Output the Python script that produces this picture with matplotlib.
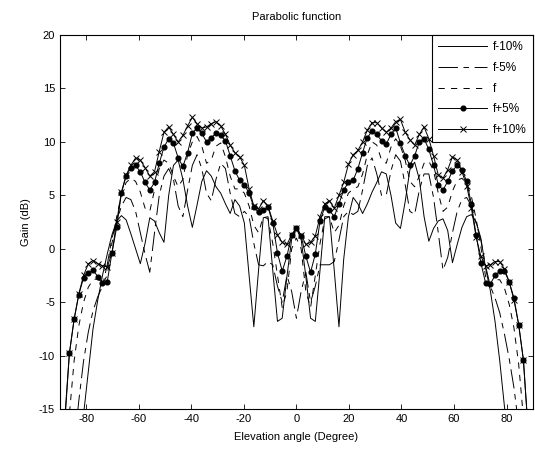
import numpy as np
import matplotlib
matplotlib.use("Agg")
import matplotlib.pyplot as plt

plt.rcParams['font.family'] = ['Liberation Sans', 'DejaVu Sans']
plt.rcParams['font.size'] = 8
plt.rcParams['lines.scale_dashes'] = False
plt.rcParams['axes.unicode_minus'] = False

# elevation angle samples (degrees), 1.8 deg step
angles = np.linspace(-90, 90, 101)

gain_m10 = [-40, -35, -30, -25, -20, -15.5, -11.5, -7.5, -4.8, -2.5,
            -0.5, 1.3, 2.6, 3.1, 2.7, 1.4, 0.0, -1.4, 0.5, 2.9,
            2.6, 1.5, 0.6, 5.0, 7.8, 8.3, 6.5, 4.0, 2.0, 4.1,
            6.3, 7.3, 6.8, 5.8, 5.2, 4.2, 3.3, 4.6, 4.0, 2.4,
            -2.5, -7.3, -2.0, 2.9, 3.0, -2.0, -6.8, -6.5, -2.6, 0.9,
            1.9,
            0.9, -2.6, -6.5, -6.8, -2.0, 3.0, 3.0, -2.0, -7.3, -1.0,
            3.0, 4.8, 4.2, 3.3, 4.2, 5.3, 6.2, 7.2, 7.0, 5.0,
            2.4, 1.9, 4.4, 7.4, 8.1, 6.5, 3.0, 0.7, 1.9, 2.6,
            2.8, 1.7, -1.3, 0.4, 2.0, 3.0, 3.2, 2.5, 1.0, -1.8,
            -3.9, -6.8, -10.5, -14.8, -19, -23, -27, -31, -35, -40]

gain_m5 = [-40, -32, -25, -18.5, -14.2, -10.5, -7.8, -5.8, -4.5, -3.5,
           -1.5, 1.0, 2.5, 4.0, 4.8, 4.6, 3.5, 1.5, -0.5, -2.2,
           1.5, 5.0, 6.8, 7.5, 6.5, 4.0, 3.0, 5.5, 7.8, 8.8,
           7.5, 5.2, 4.5, 6.5, 8.0, 7.5, 5.2, 3.3, 3.0, 3.5,
           3.0, 0.5, -1.5, -1.6, -1.2, -1.5, -3.5, -5.0, -2.5, -4.0,
           -6.5,
           -4.0, -2.2, -5.0, -3.5, -1.5, -1.5, -1.5, -1.2, 0.8, 3.0,
           3.5, 3.2, 3.5, 5.5, 7.8, 8.5, 7.0, 5.0, 5.0, 7.3,
           8.8, 8.2, 6.0, 3.5, 3.2, 5.5, 7.0, 7.0, 4.8, 1.5,
           -2.0, -0.8, 1.5, 3.5, 4.6, 4.8, 4.0, 2.4, 0.8, -1.6,
           -3.5, -4.6, -6.0, -8.0, -10.3, -13.0, -16.5, -22, -30, -40]

gain_f = [-35, -25, -15.5, -10.5, -7.2, -5.0, -3.6, -2.9, -2.8, -3.3,
          -2.5, 0.5, 3.0, 5.0, 6.2, 6.6, 6.3, 5.3, 3.8, 3.5,
          5.5, 7.5, 8.3, 8.0, 6.8, 5.8, 6.5, 8.8, 10.0, 10.5,
          9.6, 8.0, 8.3, 9.6, 9.9, 8.6, 6.8, 5.6, 5.6, 5.2,
          4.0, 2.2, 1.5, 3.0, 2.8, 0.5, -2.5, -5.5, -4.0, 0.0,
          1.0,
          0.0, -4.0, -5.5, -2.5, 0.5, 2.8, 3.0, 1.5, 2.2, 4.0,
          5.2, 5.6, 5.8, 7.0, 8.8, 10.0, 9.7, 8.3, 8.0, 9.5,
          10.3, 9.6, 8.3, 6.3, 5.8, 6.8, 8.0, 8.2, 7.3, 5.2,
          3.5, 3.9, 5.4, 6.4, 6.6, 6.1, 4.9, 2.8, 0.2, -2.6,
          -3.4, -2.9, -2.9, -3.7, -5.2, -7.4, -10.8, -15.8, -25, -35]

gain_p5 = [-30, -16.5, -9.8, -6.6, -4.3, -2.7, -2.3, -2.0, -2.6, -3.2,
           -3.1, -0.4, 2.0, 5.2, 6.8, 7.6, 7.8, 7.2, 6.2, 5.5,
           6.2, 8.0, 9.5, 10.3, 9.9, 8.5, 7.7, 9.0, 10.8, 11.3,
           10.8, 10.0, 10.4, 10.8, 10.6, 10.1, 8.7, 7.3, 6.4, 6.0,
           5.2, 3.9, 3.4, 3.6, 3.9, 2.4, -0.4, -2.1, -0.7, 1.3,
           1.9,
           1.2, -0.7, -2.2, -0.5, 2.6, 3.9, 3.6, 3.0, 4.2, 5.5,
           6.2, 6.4, 7.5, 9.0, 10.4, 11.0, 10.7, 10.1, 9.8, 10.7,
           11.3, 9.9, 8.7, 7.8, 8.7, 10.0, 10.3, 9.3, 7.8, 6.0,
           5.5, 6.3, 7.3, 7.8, 7.4, 6.3, 4.2, 1.3, -1.3, -3.2,
           -3.3, -2.5, -2.1, -2.1, -3.1, -4.6, -7.1, -10.4, -17, -30]

gain_p10 = [-30, -16, -9.8, -6.6, -4.2, -2.5, -1.4, -1.1, -1.4, -1.6,
            -1.7, -0.4, 2.5, 5.3, 6.9, 7.8, 8.5, 8.3, 7.6, 6.8,
            7.2, 9.1, 10.9, 11.4, 10.7, 10.0, 10.6, 11.5, 12.3, 11.7,
            11.3, 11.4, 11.7, 11.9, 11.5, 10.7, 9.7, 9.0, 8.6, 7.8,
            5.6, 4.0, 3.7, 4.5, 4.0, 2.6, 1.3, 0.6, 0.4, 1.3,
            1.9,
            1.3, 0.4, 0.6, 1.2, 3.0, 4.2, 4.5, 3.8, 5.0, 6.2,
            7.9, 8.8, 9.2, 10.0, 11.1, 11.8, 11.8, 11.3, 10.9, 11.3,
            11.9, 12.1, 10.9, 10.2, 9.7, 10.7, 11.4, 10.3, 8.7, 6.9,
            6.6, 7.4, 8.6, 8.3, 7.2, 5.9, 3.8, 1.1, -0.7, -1.6,
            -1.5, -1.2, -1.2, -1.9, -3.1, -4.8, -7.1, -10.4, -17, -30]

labels = ['f-10%', 'f-5%', 'f', 'f+5%', 'f+10%']
xticks = [-80, -60, -40, -20, 0, 20, 40, 60, 80]
yticks = [-15, -10, -5, 0, 5, 10, 15, 20]

fig = plt.figure(figsize=(5.35, 4.49), dpi=100)
ax = fig.add_axes([0.112, 0.089, 0.884, 0.833])

lw = 0.7
ax.plot(angles, gain_m10, color='k', lw=lw, label=labels[0])
ax.plot(angles, gain_m5, color='k', lw=lw, dashes=(14, 4, 4, 4), label=labels[1])
ax.plot(angles, gain_f, color='k', lw=lw, dashes=(4.5, 4.5), label=labels[2])
ax.plot(angles, gain_p5, color='k', lw=lw, marker='o', ms=3.4, label=labels[3])
ax.plot(angles, gain_p10, color='k', lw=lw, marker='x', ms=4, mew=0.7, label=labels[4])

ax.set_xlim(-90, 90)
ax.set_ylim(-15, 20)
ax.set_xticks(xticks)
ax.set_yticks(yticks)
ax.tick_params(direction='in', top=True, right=True, length=3.5, width=0.6, labelsize=8)
for s in ax.spines.values():
    s.set_linewidth(0.8)

ax.set_title('Parabolic function', fontsize=8, pad=11)
ax.set_xlabel('Elevation angle (Degree)', fontsize=8, labelpad=6)
ax.set_ylabel('Gain (dB)', fontsize=8, labelpad=6)

leg = ax.legend(loc='upper right', borderaxespad=0, fancybox=False, framealpha=1,
                edgecolor='k', handlelength=4.2, labelspacing=0.75, numpoints=1,
                fontsize=8.5, borderpad=0.5, handletextpad=0.5)
leg.get_frame().set_linewidth(0.8)

fig.savefig('out.png', dpi=100)
